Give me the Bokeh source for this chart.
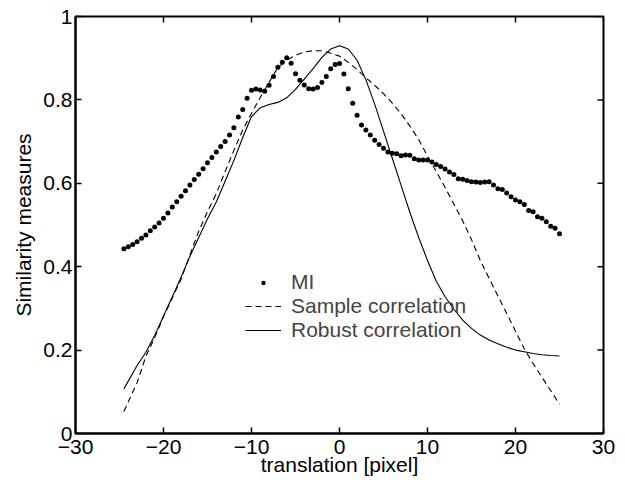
from bokeh.plotting import figure
from bokeh.models import FixedTicker, Range1d, Legend, LegendItem
from bokeh.embed import file_html
from bokeh.resources import INLINE

# MI: translation -24.5 .. 25 step 0.5
mi_x = [-24.5 + 0.5 * i for i in range(100)]
mi_y = [
    0.443, 0.448, 0.453, 0.460, 0.468, 0.476, 0.486, 0.495, 0.505, 0.516,
    0.529, 0.543, 0.556, 0.569, 0.582, 0.596, 0.609, 0.622, 0.635, 0.649,
    0.662, 0.675, 0.688, 0.700, 0.716, 0.733, 0.759, 0.777, 0.804, 0.823,
    0.826, 0.824, 0.821, 0.835, 0.856, 0.878, 0.890, 0.901, 0.888, 0.863,
    0.847, 0.836, 0.827, 0.826, 0.830, 0.842, 0.856, 0.875, 0.885, 0.887,
    0.862, 0.827, 0.792, 0.763, 0.740, 0.728, 0.716, 0.703, 0.693, 0.684,
    0.675, 0.672, 0.671, 0.666, 0.668, 0.667, 0.659, 0.656, 0.656, 0.656,
    0.651, 0.645, 0.640, 0.634, 0.627, 0.621, 0.611, 0.610, 0.607, 0.604,
    0.603, 0.602, 0.603, 0.604, 0.596, 0.587, 0.585, 0.577, 0.568, 0.560,
    0.556, 0.549, 0.535, 0.532, 0.520, 0.516, 0.508, 0.497, 0.492, 0.479,
]

curve_x = [-24.5, -23, -22, -21, -20, -19, -18, -17, -16, -15, -14, -13, -12,
           -11, -10, -9, -8, -7, -6, -5, -4, -3, -2, -1, 0, 1, 2, 3, 4, 5, 6,
           7, 8, 9, 10, 11, 12, 13, 14, 15, 16, 17, 18, 19, 20, 21, 22, 23,
           24, 25]
sample_corr = [0.053, 0.122, 0.185, 0.230, 0.280, 0.325, 0.370, 0.428, 0.485,
               0.532, 0.575, 0.628, 0.679, 0.728, 0.768, 0.806, 0.842, 0.878,
               0.895, 0.907, 0.915, 0.918, 0.918, 0.912, 0.905, 0.890, 0.873,
               0.853, 0.835, 0.815, 0.792, 0.767, 0.737, 0.705, 0.665, 0.628,
               0.590, 0.550, 0.510, 0.465, 0.415, 0.372, 0.330, 0.288, 0.245,
               0.203, 0.168, 0.135, 0.103, 0.070]
robust_corr = [0.107, 0.163, 0.195, 0.235, 0.282, 0.328, 0.375, 0.425, 0.470,
               0.515, 0.555, 0.605, 0.655, 0.710, 0.760, 0.781, 0.789, 0.794,
               0.805, 0.825, 0.850, 0.875, 0.902, 0.922, 0.930, 0.922, 0.895,
               0.848, 0.790, 0.725, 0.660, 0.595, 0.530, 0.470, 0.415, 0.365,
               0.328, 0.298, 0.272, 0.252, 0.236, 0.224, 0.215, 0.207, 0.200,
               0.196, 0.192, 0.189, 0.187, 0.186]

x_ticks = [-30, -20, -10, 0, 10, 20, 30]
y_ticks = [0, 0.2, 0.4, 0.6, 0.8, 1]
x_tick_labels = ["\u221230", "\u221220", "\u221210", "0", "10", "20", "30"]
y_tick_labels = ["0", "0.2", "0.4", "0.6", "0.8", "1"]

FONT = "Liberation Sans"
FS = "21px"

W, H = 617, 483
BL, BR, BT, BB = 75, 14, 16, 50
XMIN, XMAX, YMIN, YMAX = -30, 30, 0, 1

p = figure(width=W, height=H, x_range=Range1d(XMIN, XMAX), y_range=Range1d(YMIN, YMAX),
           output_backend="svg", toolbar_location=None,
           min_border_left=BL, min_border_right=BR, min_border_top=BT,
           min_border_bottom=BB, x_axis_label="translation [pixel]",
           y_axis_label="Similarity measures")
p.grid.visible = False
p.outline_line_color = "black"
p.outline_line_width = 2
p.outline_line_alpha = 1
p.background_fill_color = "white"
p.border_fill_color = "white"

for ax in (p.xaxis[0], p.yaxis[0]):
    ax.axis_line_width = 2
    ax.major_tick_in = 6
    ax.major_tick_out = 0
    ax.minor_tick_line_color = None
    ax.major_tick_line_width = 1.5
    ax.major_label_text_font = FONT
    ax.major_label_text_font_size = FS
    ax.major_label_text_color = "black"
    ax.axis_label_text_font = FONT
    ax.axis_label_text_font_size = FS
    ax.axis_label_text_font_style = "normal"
    ax.axis_label_text_color = "black"

p.xaxis[0].ticker = FixedTicker(ticks=x_ticks)
p.yaxis[0].ticker = FixedTicker(ticks=y_ticks)
p.xaxis[0].major_label_overrides = dict(zip(x_ticks, x_tick_labels))
p.yaxis[0].major_label_overrides = dict(zip(y_ticks, y_tick_labels))
p.xaxis[0].major_label_standoff = 6
p.yaxis[0].major_label_standoff = 3
p.xaxis[0].axis_label_standoff = -4
p.yaxis[0].axis_label_standoff = 5

# inward ticks on the top and right edges of the box (MATLAB style)
frame_w = W - BL - BR
frame_h = H - BT - BB
tick_len = 6
dy = tick_len * (YMAX - YMIN) / frame_h
dx = tick_len * (XMAX - XMIN) / frame_w
p.segment(x0=x_ticks, y0=[YMAX] * len(x_ticks), x1=x_ticks, y1=[YMAX - dy] * len(x_ticks),
          line_color="black", line_width=1.5)
p.segment(x0=[XMAX] * len(y_ticks), y0=y_ticks, x1=[XMAX - dx] * len(y_ticks), y1=y_ticks,
          line_color="black", line_width=1.5)

r_mi = p.scatter(mi_x, mi_y, size=5, fill_color="black", line_color=None, marker="circle")
r_s = p.line(curve_x, sample_corr, line_color="black", line_width=1.1, line_dash="6 4")
r_r = p.line(curve_x, robust_corr, line_color="black", line_width=1.1)

common = dict(border_line_color=None, background_fill_alpha=0, glyph_width=36,
              spacing=0, padding=0, margin=0, label_standoff=10,
              label_text_font=FONT, label_text_font_size=FS)

legend_mi = Legend(items=[LegendItem(label="MI", renderers=[r_mi])],
                   location=(170, 139), glyph_height=11, label_height=24, **common)
legend_lines = Legend(items=[LegendItem(label="Sample correlation", renderers=[r_s]),
                             LegendItem(label="Robust correlation", renderers=[r_r])],
                      location=(170, 91), glyph_height=24, label_height=24, **common)
p.add_layout(legend_mi)
p.add_layout(legend_lines)

open("out.html", "w").write(file_html(p, INLINE))
